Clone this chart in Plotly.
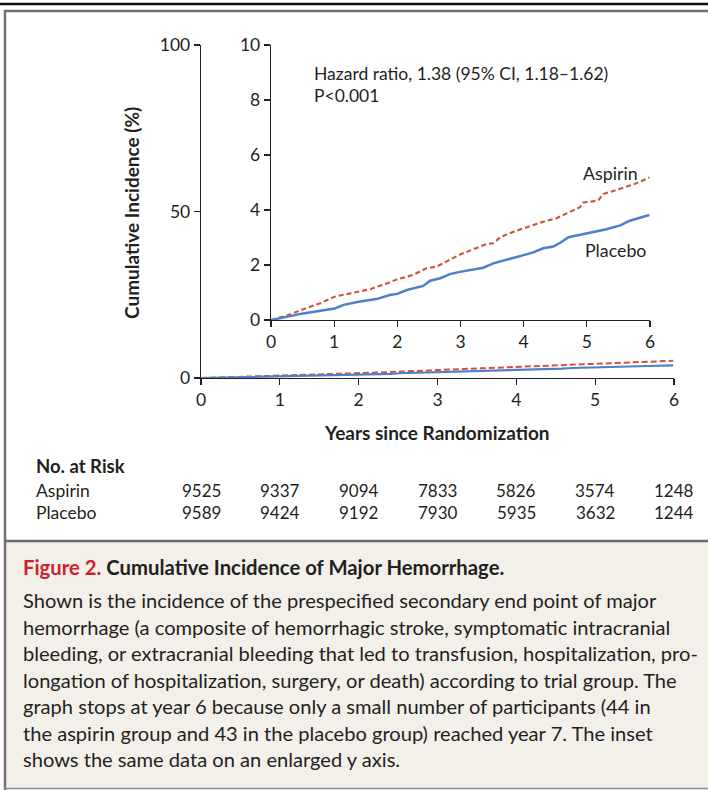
import plotly.graph_objects as go

# ---------------- data ----------------
aspirin_years = [0, 0.25, 0.51, 0.78, 1.01, 1.30, 1.57, 1.83, 2.00, 2.25, 2.46, 2.62, 2.83, 3.00,
                 3.20, 3.41, 3.52, 3.63, 3.84, 4.00, 4.20, 4.36, 4.52, 4.73, 4.89, 4.94, 5.18,
                 5.26, 5.53, 5.74, 5.99]
aspirin_inc = [0, 0.16, 0.39, 0.61, 0.85, 0.99, 1.12, 1.33, 1.48, 1.64, 1.88, 1.94, 2.18, 2.39,
               2.57, 2.76, 2.79, 3.01, 3.21, 3.33, 3.49, 3.61, 3.70, 3.94, 4.10, 4.27, 4.34,
               4.58, 4.79, 4.93, 5.18]
placebo_years = [0, 0.25, 0.51, 0.78, 1.01, 1.15, 1.41, 1.67, 1.88, 2.00, 2.15, 2.41, 2.52, 2.68,
                 2.83, 2.99, 3.20, 3.36, 3.52, 3.78, 4.00, 4.15, 4.31, 4.47, 4.58, 4.71, 4.89,
                 5.10, 5.31, 5.53, 5.68, 5.99]
placebo_inc = [0, 0.12, 0.24, 0.34, 0.42, 0.55, 0.67, 0.76, 0.91, 0.95, 1.09, 1.24, 1.43, 1.52,
               1.67, 1.75, 1.82, 1.90, 2.06, 2.21, 2.36, 2.46, 2.61, 2.67, 2.81, 3.01, 3.09,
               3.18, 3.30, 3.44, 3.61, 3.82]

risk_years = [0, 1, 2, 3, 4, 5, 6]
risk_aspirin = [9525, 9337, 9094, 7833, 5826, 3574, 1248]
risk_placebo = [9589, 9424, 9192, 7930, 5935, 3632, 1244]

main_yticks = [0, 50, 100]
inset_yticks = [0, 2, 4, 6, 8, 10]
xticks = [0, 1, 2, 3, 4, 5, 6]

caption_title = ("<b><span style='color:#d0202f'>Figure 2.</span> "
                 "Cumulative Incidence of Major Hemorrhage.</b>")
caption_lines = [
    "Shown is the incidence of the prespecified secondary end point of major",
    "hemorrhage (a composite of hemorrhagic stroke, symptomatic intracranial",
    "bleeding, or extracranial bleeding that led to transfusion, hospitalization, pro-",
    "longation of hospitalization, surgery, or death) according to trial group. The",
    "graph stops at year 6 because only a small number of participants (44 in",
    "the aspirin group and 43 in the placebo group) reached year 7. The inset",
    "shows the same data on an enlarged y axis.",
]

# ---------------- layout helpers ----------------
W, H = 708, 790
FONT = "Lato"
RED = "#d1523a"
BLUE = "#4f7fc9"
TXT = "#231f20"


def px(x):
    return x / W


def py(y):
    return 1 - y / H


fig = go.Figure()

fig.add_trace(go.Scatter(x=aspirin_years, y=aspirin_inc, mode="lines",
                         line=dict(color=RED, width=2, dash="6px,3px"),
                         xaxis="x", yaxis="y", showlegend=False, hoverinfo="skip"))
fig.add_trace(go.Scatter(x=placebo_years, y=placebo_inc, mode="lines",
                         line=dict(color=BLUE, width=2.2),
                         xaxis="x", yaxis="y", showlegend=False, hoverinfo="skip"))
fig.add_trace(go.Scatter(x=aspirin_years, y=aspirin_inc, mode="lines",
                         line=dict(color=RED, width=2.1, dash="5px,3px"),
                         xaxis="x2", yaxis="y2", showlegend=False, hoverinfo="skip"))
fig.add_trace(go.Scatter(x=placebo_years, y=placebo_inc, mode="lines",
                         line=dict(color=BLUE, width=2.5),
                         xaxis="x2", yaxis="y2", showlegend=False, hoverinfo="skip"))

axis_common = dict(showline=True, linecolor="#231f20", linewidth=1.3, ticks="outside",
                   ticklen=6, tickwidth=1.2, tickcolor="#231f20", showgrid=False,
                   zeroline=False, automargin=False,
                   tickfont=dict(family=FONT, size=17.5, color=TXT))

fig.update_layout(
    width=W, height=H, margin=dict(l=0, r=0, t=0, b=0, pad=0, autoexpand=False),
    paper_bgcolor="white", plot_bgcolor="rgba(0,0,0,0)",
    xaxis=dict(domain=[px(201), px(674)], range=[0, 6], tickvals=xticks, anchor="y",
               **axis_common),
    yaxis=dict(domain=[py(378), py(45)], range=[0, 100], tickvals=main_yticks, anchor="x",
               **axis_common),
    xaxis2=dict(domain=[px(271), px(650)], range=[0, 6], tickvals=xticks, anchor="y2",
                **axis_common),
    yaxis2=dict(domain=[py(320), py(45)], range=[0, 10], tickvals=inset_yticks, anchor="x2",
                **axis_common),
)


def note(text, x, y, size, xanchor="left", yanchor="middle", **kw):
    return dict(text=text, x=px(x), y=py(y), xref="paper", yref="paper", xanchor=xanchor,
                yanchor=yanchor, showarrow=False, font=dict(family=FONT, size=size, color=TXT),
                **kw)


ann = []
ann.append(note("<b>Years since Randomization</b>", 437, 432, 19, xanchor="center"))
ann.append(note("<b>Cumulative Incidence (%)</b>", 131, 213, 19, xanchor="center",
                textangle=-90))
ann.append(note("Hazard ratio, 1.38 (95% CI, 1.18–1.62)", 312, 73, 17.5))
ann.append(note("P&lt;0.001", 312, 96, 17.5))
ann.append(note("Aspirin", 610, 173, 17.8, xanchor="center"))
ann.append(note("Placebo", 615, 250, 17.8, xanchor="center"))
ann.append(note("<b>No. at Risk</b>", 34, 466, 18.5))
ann.append(note("Aspirin", 34, 490, 17.5))
ann.append(note("Placebo", 34, 512, 17.5))
for yr, a, p in zip(risk_years, risk_aspirin, risk_placebo):
    ann.append(dict(text=str(a), x=yr, y=py(490), xref="x", yref="paper", showarrow=False,
                    xanchor="center", yanchor="middle",
                    font=dict(family=FONT, size=17, color=TXT)))
    ann.append(dict(text=str(p), x=yr, y=py(512), xref="x", yref="paper", showarrow=False,
                    xanchor="center", yanchor="middle",
                    font=dict(family=FONT, size=17, color=TXT)))
ann.append(note(caption_title, 21, 567, 20.3))
for i, line in enumerate(caption_lines):
    ann.append(note(line, 21, 600 + i * 26.5, 20.1))
fig.update_layout(annotations=ann)

shapes = [
    dict(type="rect", xref="paper", yref="paper", x0=px(4), x1=1, y0=py(788), y1=py(541),
         fillcolor="#f3f0ea", line=dict(width=0), layer="below"),
    dict(type="line", xref="paper", yref="paper", x0=0, x1=1, y0=py(4), y1=py(4),
         line=dict(color="#111111", width=2.5)),
    dict(type="line", xref="paper", yref="paper", x0=px(4), x1=1, y0=py(11), y1=py(11),
         line=dict(color="#707070", width=2.5)),
    dict(type="line", xref="paper", yref="paper", x0=px(5), x1=px(5), y0=py(10), y1=py(790),
         line=dict(color="#707070", width=2.5)),
    dict(type="line", xref="paper", yref="paper", x0=px(4), x1=1, y0=py(541), y1=py(541),
         line=dict(color="#6a6a6a", width=2.5)),
    dict(type="line", xref="paper", yref="paper", x0=px(4), x1=1, y0=py(788.5), y1=py(788.5),
         line=dict(color="#8a8a8a", width=1.5)),
]
fig.update_layout(shapes=shapes)

fig.write_html("out.html", config={"displayModeBar": False, "staticPlot": True},
               post_script="document.body.style.margin='0';"
                           "document.body.style.overflow='hidden';"
                           "document.documentElement.style.overflow='hidden';")
